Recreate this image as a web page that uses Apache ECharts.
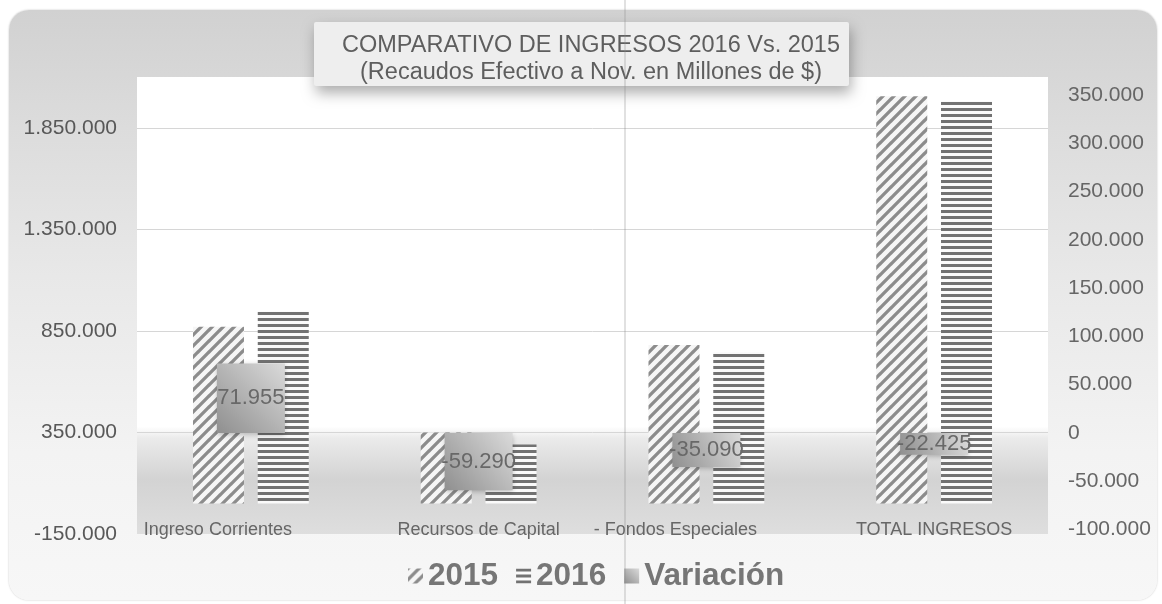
<!DOCTYPE html>
<html>
<head>
<meta charset="utf-8">
<script src="https://cdn.jsdelivr.net/npm/echarts@6/dist/echarts.min.js"></script>
<style>
  html, body { margin: 0; padding: 0; width: 1162px; height: 604px; background: #ffffff; overflow: hidden; }
  #bg { position: absolute; left: 9px; top: 10px; width: 1148px; height: 590px; border-radius: 20px;
        background: linear-gradient(to bottom, #d1d1d1 0%, #dcdcdc 20%, #e8e8e8 45%, #f3f3f3 75%, #f7f7f7 100%);
        box-shadow: 0 0 2px rgba(0,0,0,0.25); }
  #chart { position: absolute; left: 0; top: 0; width: 1162px; height: 604px; }
</style>
</head>
<body>
<div id="bg"></div>
<div id="chart"></div>
<script>
// ---- data ----
const categories = ['Ingreso Corrientes', 'Recursos de Capital', '- Fondos Especiales', 'TOTAL INGRESOS'];
const seriesNames = ['2015', '2016', 'Variación'];
const values2015 = [870000, 350000, 780000, 2005000];
const values2016 = [945000, 291000, 745000, 1983000];
const variacion = [71955, -59290, -35090, -22425];
const leftAxisMin = -150000, leftAxisStep = 500000, leftAxisMax = 2100000;
const rightAxisMin = -100000, rightAxisStep = 50000, rightAxisMax = 368500;
const titleText = 'COMPARATIVO DE INGRESOS 2016 Vs. 2015';
const subtitleText = '(Recaudos Efectivo a Nov. en Millones de $)';

function fmt(v) {
  const s = Math.abs(Math.round(v)).toString().replace(/\B(?=(\d{3})+(?!\d))/g, '.');
  return (v < 0 ? '-' : '') + s;
}

function diagPattern() {
  const s = 11;
  const c = document.createElement('canvas');
  c.width = s; c.height = s;
  const g = c.getContext('2d');
  g.fillStyle = '#f6f6f6'; g.fillRect(0, 0, s, s);
  g.strokeStyle = '#8c8c8c'; g.lineWidth = 3.3; g.lineCap = 'square';
  g.beginPath();
  [-s, 0, s].forEach(function (o) { g.moveTo(o, s); g.lineTo(o + s, 0); });
  g.stroke();
  return c;
}
function horizPattern() {
  const c = document.createElement('canvas');
  c.width = 6; c.height = 6;
  const g = c.getContext('2d');
  g.fillStyle = '#fafafa'; g.fillRect(0, 0, 6, 6);
  g.fillStyle = '#727272'; g.fillRect(0, 0, 6, 3);
  return c;
}

const FONT = '"Liberation Sans", Arial, sans-serif';
const chart = echarts.init(document.getElementById('chart'), null, { renderer: 'canvas' });

const option = {
  backgroundColor: 'transparent',
  animation: false,
  textStyle: { fontFamily: FONT },
  title: {
    text: titleText,
    subtext: subtitleText,
    left: 586, top: 29, textAlign: 'center', itemGap: 3, z: 10,
    textStyle: { fontFamily: FONT, fontSize: 23.5, fontWeight: 'normal', color: '#5e5e5e', lineHeight: 24 },
    subtextStyle: { fontFamily: FONT, fontSize: 23.5, color: '#5e5e5e', lineHeight: 24 }
  },
  graphic: [
    { type: 'rect', z: 5, shape: { x: 314, y: 22, width: 535, height: 64, r: 2 },
      style: { fill: '#eeeeee', shadowBlur: 14, shadowColor: 'rgba(0,0,0,0.32)', shadowOffsetY: 7, shadowOffsetX: 2 } },
    { type: 'line', z: 100, shape: { x1: 625, y1: 0, x2: 625, y2: 604 },
      style: { stroke: 'rgba(140,140,140,0.35)', lineWidth: 1.5 } }
  ],
  grid: [
    { left: 137, right: 114, top: 77, bottom: 70, show: true, borderWidth: 0,
      backgroundColor: { type: 'linear', x: 0, y: 0, x2: 0, y2: 1, colorStops: [
        { offset: 0, color: '#ffffff' }, { offset: 0.765, color: '#ffffff' },
        { offset: 0.79, color: '#ebebeb' }, { offset: 0.88, color: '#d3d3d3' },
        { offset: 1, color: '#dedede' } ] } },
    { left: 137, right: 114, top: 77, bottom: 74.4, show: false }
  ],
  legend: {
    bottom: 7, left: 403, itemWidth: 15, itemHeight: 15, itemGap: 18,
    icon: 'rect',
    textStyle: { fontFamily: FONT, fontSize: 31.5, fontWeight: 'bold', color: '#767676' },
    data: seriesNames
  },
  xAxis: [
    { type: 'category', gridIndex: 0, data: categories, position: 'bottom',
      axisLine: { show: false }, axisTick: { show: false },
      axisLabel: { interval: 0, hideOverlap: false, margin: -13, fontFamily: FONT, fontSize: 18, color: '#666',
        formatter: function (v, i) { return i === 0 ? '{a|' + v + '}' : (i === 2 ? '{b|' + v + '}' : v); },
        rich: { a: { fontFamily: FONT, fontSize: 18, color: '#666', padding: [0, 66, 0, 0] },
                b: { fontFamily: FONT, fontSize: 18, color: '#666', padding: [0, 62, 0, 0] } } },
      splitLine: { show: false } },
    { type: 'category', gridIndex: 1, data: categories, show: false }
  ],
  yAxis: [
    { type: 'value', gridIndex: 0, position: 'left', min: leftAxisMin, max: leftAxisMax, interval: leftAxisStep,
      axisLine: { show: false }, axisTick: { show: false },
      axisLabel: { margin: 20, fontFamily: FONT, fontSize: 21, color: '#585858', showMaxLabel: false,
        formatter: function (v) { return fmt(v); } },
      splitLine: { show: true, showMinLine: false, showMaxLine: false, lineStyle: { color: '#d6d6d6', width: 1 } } },
    { type: 'value', gridIndex: 1, position: 'right', min: rightAxisMin, max: rightAxisMax, interval: rightAxisStep,
      axisLine: { show: false }, axisTick: { show: false },
      axisLabel: { margin: 20, fontFamily: FONT, fontSize: 21, color: '#666', showMaxLabel: false,
        formatter: function (v) { return fmt(v); } },
      splitLine: { show: false } }
  ],
  series: [
    { name: seriesNames[0], type: 'bar', xAxisIndex: 0, yAxisIndex: 0, data: values2015,
      barWidth: 51, barGap: '27%', z: 2,
      itemStyle: { color: { image: diagPattern(), repeat: 'repeat' } } },
    { name: seriesNames[1], type: 'bar', xAxisIndex: 0, yAxisIndex: 0, data: values2016,
      barWidth: 51, barGap: '27%', z: 2,
      itemStyle: { color: { image: horizPattern(), repeat: 'repeat' } } },
    { name: seriesNames[2], type: 'bar', xAxisIndex: 1, yAxisIndex: 1, data: variacion,
      barWidth: 68, z: 4,
      itemStyle: { color: { type: 'linear', x: 1, y: 0, x2: 0, y2: 1, colorStops: [
          { offset: 0, color: '#dadada' }, { offset: 1, color: '#8f8f8f' } ] },
        shadowBlur: 5, shadowColor: 'rgba(0,0,0,0.25)', shadowOffsetY: 2 },
      label: { show: true, position: 'inside', fontFamily: FONT, fontSize: 22, color: '#686868',
        formatter: function (p) { return fmt(p.value); } } }
  ]
};
chart.setOption(option);
</script>
</body>
</html>
